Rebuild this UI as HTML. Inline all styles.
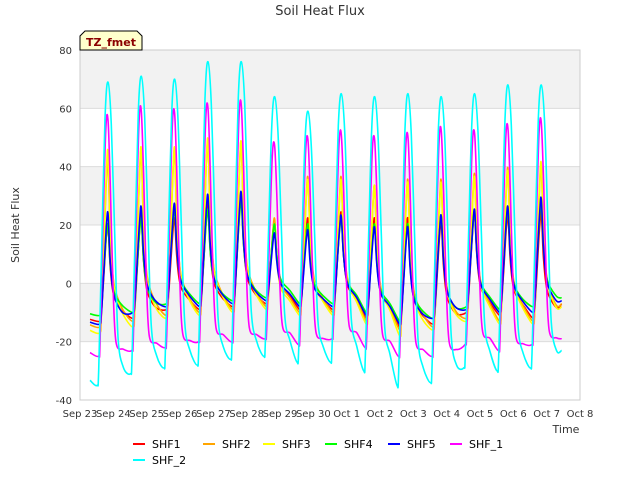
<!DOCTYPE html>
<html><head><meta charset="utf-8"><style>
body{margin:0;background:#fff;font-family:"Liberation Sans","DejaVu Sans",sans-serif}
svg text{font-family:"DejaVu Sans","Liberation Sans",sans-serif}
</style></head><body>
<svg id="c" width="640" height="480" viewBox="0 0 640 480" xmlns="http://www.w3.org/2000/svg">
<rect width="640" height="480" fill="#fff"/>
<g id="bands"></g>
<g id="grid"></g>
<rect x="80" y="50" width="500" height="350" fill="none" stroke="#ccc"/>
<g id="series"></g>
<g id="axes"></g>
<text x="320" y="15" text-anchor="middle" font-size="13" fill="#333">Soil Heat Flux</text>
<text transform="translate(19,225) rotate(-90)" text-anchor="middle" font-size="11" fill="#333">Soil Heat Flux</text>
<text x="566" y="433" text-anchor="middle" font-size="11" fill="#333">Time</text>
<g>
<path d="M80,50 L80,36 L85,31 L137,31 L142,36 L142,50 Z" fill="#ffffcc" stroke="#000"/>
<text x="111" y="46" text-anchor="middle" font-size="11" font-weight="bold" fill="#8b0000">TZ_fmet</text>
</g>
<g id="legend"></g>
</svg>
<script>
const names=["SHF1","SHF2","SHF3","SHF4","SHF5","SHF_1","SHF_2"];
const colors=["#ff0000","#ffa500","#ffff00","#00ff00","#0000ff","#ff00ff","#00ffff"];
const peaks_SHF1=[20,23,22,27,30,21,22,24,22,22,21,24,23,24];
const peaks_SHF2=[42,45,45,48,48,22,36,36,33,35,35,37,39,40];
const peaks_SHF3=[45,46,46,49,48,20,35,35,33,34,34,36,38,41];
const peaks_SHF4=[20,22,25,25,28,20,20,22,20,20,23,24,25,27];
const peaks_SHF5=[24,26,27,30,31,17,18,23,19,19,23,25,26,29];
const peaks_SHF_1=[56,59,58,60,61,47,49,51,49,50,52,51,53,55];
const peaks_SHF_2=[69,71,70,76,76,64,59,65,64,65,64,65,68,68];
const troughs_SHF1=[-13,-12,-9,-9,-8,-7,-9,-9,-12,-15,-14,-10,-11,-12,-7];
const troughs_SHF2=[-15,-13,-11,-10,-9,-8,-10,-10,-13,-16,-15,-12,-13,-13,-7];
const troughs_SHF3=[-17,-15,-12,-11,-10,-9,-11,-11,-14,-18,-16,-13,-14,-14,-8];
const troughs_SHF4=[-11,-10,-7,-7,-6,-5,-7,-7,-10,-13,-12,-8,-9,-8,-5];
const troughs_SHF5=[-14,-10,-8,-8,-7,-6,-8,-8,-11,-14,-12,-9,-10,-10,-6];
const troughs_SHF_1=[-25,-23,-22,-20,-20,-19,-21,-19,-22,-25,-25,-21,-23,-21,-19];
const troughs_SHF_2=[-35,-31,-29,-28,-26,-25,-27,-27,-30,-35,-34,-29,-30,-29,-23];
const xTicks=["Sep 23","Sep 24","Sep 25","Sep 26","Sep 27","Sep 28","Sep 29","Sep 30","Oct 1","Oct 2","Oct 3","Oct 4","Oct 5","Oct 6","Oct 7","Oct 8"];
const yTicks=[-40,-20,0,20,40,60,80];
const peaks=[peaks_SHF1,peaks_SHF2,peaks_SHF3,peaks_SHF4,peaks_SHF5,peaks_SHF_1,peaks_SHF_2];
const troughs=[troughs_SHF1,troughs_SHF2,troughs_SHF3,troughs_SHF4,troughs_SHF5,troughs_SHF_1,troughs_SHF_2];
const NS="http://www.w3.org/2000/svg";
const X=d=>80+d*500/15, Y=v=>400-(v+40)*350/120;
function mk(t,a,p){const e=document.createElementNS(NS,t);for(const k in a)e.setAttribute(k,a[k]);p.appendChild(e);return e;}
const bands=document.getElementById('bands'),grid=document.getElementById('grid'),axes=document.getElementById('axes');
for(let i=0;i<6;i++){const lo=-40+i*20;
 const r=mk('rect',{x:80,y:Y(lo+20),width:500,height:Y(lo)-Y(lo+20),fill:(i%2==1)?'#f2f2f2':'#ffffff'},bands);
 
 }
yTicks.forEach(v=>{const l=mk('line',{x1:80,x2:580,y1:Y(v),y2:Y(v),stroke:'#dcdcdc'},grid);
 
 
 const t=mk('text',{x:72,y:Y(v)+4,'text-anchor':'end','font-size':10,fill:'#333'},axes);t.textContent=v;
 
 });
xTicks.forEach((s,i)=>{const t=mk('text',{x:X(i),y:417,'text-anchor':'middle','font-size':10,fill:'#333'},axes);t.textContent=s;
 
 });
const sg=document.getElementById('series');
const shapeSoil=[[0.64,0.08],[0.71,0.45],[0.79,0.88],[0.84,1],[0.9,0.6],[0.97,0.35],[1.06,0.22],[1.3,0.1]];
const shapeMag=[[0.6,0.05],[0.68,0.5],[0.77,0.95],[0.84,1],[0.91,0.72],[0.99,0.3],[1.08,0.06],[1.3,0.03]];
const shapeCyan=[[0.56,0.05],[0.65,0.45],[0.75,0.88],[0.84,1],[0.94,0.86],[1.04,0.5],[1.14,0.16],[1.3,0.06]];
function smooth(pts){let d='M'+pts[0][0].toFixed(1)+','+pts[0][1].toFixed(1);
 for(let i=0;i<pts.length-1;i++){const p0=pts[i-1]||pts[i],p1=pts[i],p2=pts[i+1],p3=pts[i+2]||p2;
  const c1x=p1[0]+(p2[0]-p0[0])/6,c1y=p1[1]+(p2[1]-p0[1])/6,c2x=p2[0]-(p3[0]-p1[0])/6,c2y=p2[1]-(p3[1]-p1[1])/6;
  d+=' C'+c1x.toFixed(1)+','+c1y.toFixed(1)+' '+c2x.toFixed(1)+','+c2y.toFixed(1)+' '+p2[0].toFixed(1)+','+p2[1].toFixed(1);}
 return d;}
for(let s=0;s<7;s++){
 const tm=s==6?shapeCyan:(s==5?shapeMag:shapeSoil);
 const P=peaks[s],T=troughs[s];let pts=[[0.3,T[0]*0.95],[tm[0][0]-0.05,T[0]]];
 for(let d=0;d<P.length;d++){const r=P[d]-T[d];
  tm.forEach(([f,w])=>pts.push([d+f,T[d]+w*r]));
  if(d+1<P.length)pts.push([d+1+tm[0][0]-0.05,T[d+1]]);else pts.push([d+1.45,T[d+1]]);}
 const p=mk('path',{d:smooth(pts.map(q=>[X(q[0]),Y(q[1])])),fill:'none',stroke:colors[s],'stroke-width':1.6,'stroke-linejoin':'round'},sg);
 
 }
const lg=document.getElementById('legend');
const lx=[133,203,263,325,388,450,133],ly=[444,444,444,444,444,444,460];
names.forEach((n,i)=>{const g=mk('g',{},lg);
 
 
 mk('line',{x1:lx[i],x2:lx[i]+12,y1:ly[i],y2:ly[i],stroke:colors[i],'stroke-width':2},g);
 const t=mk('text',{x:lx[i]+19,y:ly[i]+4,'font-size':11,fill:'#000'},g);t.textContent=n;});
</script>
</body></html>
